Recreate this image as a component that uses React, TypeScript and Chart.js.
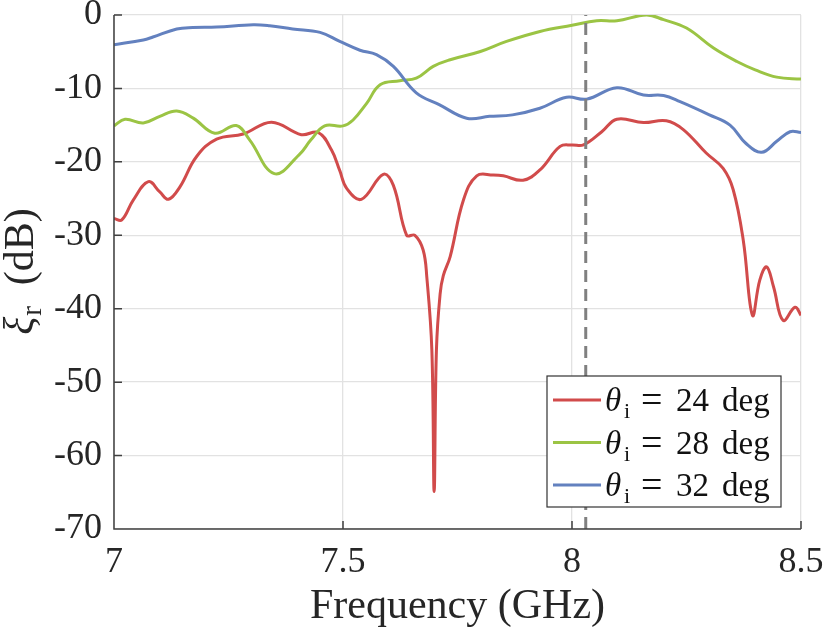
import { useEffect, useRef } from 'react';
import { Chart, registerables } from 'chart.js';

Chart.register(...registerables);

// reflection level vs frequency
const freq24 = [7.0, 7.017, 7.042, 7.075, 7.1, 7.119, 7.144, 7.18, 7.224, 7.282, 7.344, 7.409, 7.446, 7.475, 7.493, 7.508, 7.54, 7.588, 7.61, 7.639, 7.657, 7.675, 7.683, 7.694, 7.699, 7.704, 7.712, 7.719, 7.734, 7.763, 7.792, 7.828, 7.85, 7.893, 7.93, 7.974, 8.0, 8.025, 8.065, 8.098, 8.156, 8.206, 8.243, 8.293, 8.33, 8.352, 8.374, 8.394, 8.41, 8.425, 8.44, 8.461, 8.487, 8.5];
const xi24 = [-27.7, -27.9, -25.2, -22.7, -24.1, -25.1, -23.4, -19.3, -16.9, -16.2, -14.6, -16.3, -16.0, -18.4, -21.2, -23.6, -25.1, -21.7, -23.2, -30.0, -30.0, -32.0, -35.7, -45.6, -64.9, -45.6, -38.0, -35.5, -32.9, -25.2, -21.9, -21.8, -21.9, -22.5, -21.1, -17.9, -17.7, -17.7, -15.9, -14.2, -14.65, -14.4, -15.6, -18.8, -20.9, -23.8, -30.7, -40.9, -36.1, -34.3, -37.0, -41.6, -39.8, -40.9];

const freq28 = [7.0, 7.024, 7.064, 7.1, 7.137, 7.173, 7.22, 7.267, 7.296, 7.35, 7.404, 7.43, 7.46, 7.5, 7.522, 7.552, 7.581, 7.624, 7.66, 7.697, 7.734, 7.8, 7.857, 7.93, 8.0, 8.054, 8.098, 8.163, 8.2, 8.25, 8.309, 8.36, 8.4, 8.447, 8.5];
const xi28 = [-15.1, -14.2, -14.7, -13.8, -13.06, -14.05, -16.1, -15.06, -17.0, -21.6, -19.06, -17.0, -15.1, -15.1, -14.3, -12.0, -9.5, -8.96, -8.6, -7.0, -6.1, -4.97, -3.6, -2.24, -1.4, -0.78, -0.78, 0.0, -0.64, -1.78, -4.5, -6.33, -7.46, -8.46, -8.73];

const freq32 = [7.0, 7.064, 7.085, 7.137, 7.172, 7.224, 7.304, 7.34, 7.39, 7.45, 7.493, 7.537, 7.573, 7.61, 7.66, 7.71, 7.77, 7.82, 7.87, 7.93, 7.988, 8.032, 8.098, 8.156, 8.2, 8.236, 8.3, 8.345, 8.38, 8.414, 8.447, 8.476, 8.5];
const xi32 = [-4.05, -3.4, -3.0, -1.9, -1.7, -1.64, -1.32, -1.46, -1.9, -2.37, -3.6, -4.8, -5.4, -7.0, -10.6, -12.2, -14.05, -13.8, -13.6, -12.7, -11.2, -11.46, -9.9, -10.9, -10.97, -11.8, -13.6, -15.0, -17.5, -18.7, -17.2, -15.9, -16.0];

const angles = [24, 28, 32];
const colors = ['#d14b4b', '#9bc444', '#6381bf'];
const markerFreq = 8.03;

const xTicks = [7, 7.5, 8, 8.5];
const yTicks = [0, -10, -20, -30, -40, -50, -60, -70];

const serif = '"Liberation Serif", "Times New Roman", serif';
const ink = '#262626';

const toPoints = (xs: number[], ys: number[]) => xs.map((x, i) => ({ x, y: ys[i] }));

const decorations = {
  id: 'decorations',
  afterDraw(chart: any) {
    const { ctx, chartArea: a, scales } = chart;
    ctx.save();

    // axes with inward ticks
    ctx.strokeStyle = '#404040';
    ctx.lineWidth = 1.5;
    ctx.beginPath();
    ctx.moveTo(a.left, a.top);
    ctx.lineTo(a.left, a.bottom);
    ctx.lineTo(a.right, a.bottom);
    yTicks.forEach((v) => {
      const y = scales.y.getPixelForValue(v);
      ctx.moveTo(a.left, y);
      ctx.lineTo(a.left + 8, y);
    });
    xTicks.forEach((v) => {
      const x = scales.x.getPixelForValue(v);
      ctx.moveTo(x, a.bottom);
      ctx.lineTo(x, a.bottom - 8);
    });
    ctx.stroke();

    // y title: xi_r (dB)
    ctx.save();
    ctx.translate(33, (a.top + a.bottom) / 2);
    ctx.rotate(-Math.PI / 2);
    ctx.fillStyle = ink;
    ctx.textBaseline = 'alphabetic';
    ctx.textAlign = 'left';
    const fXi = 'italic 42px ' + serif;
    const fSub = '29px ' + serif;
    const fMain = '42px ' + serif;
    ctx.font = fXi;
    const wXi = ctx.measureText('ξ').width;
    ctx.font = fSub;
    const wR = ctx.measureText('r').width;
    ctx.font = fMain;
    const wRest = ctx.measureText('  (dB)').width;
    let x0 = -(wXi + wR + wRest) / 2;
    ctx.font = fXi;
    ctx.fillText('ξ', x0, 0);
    x0 += wXi + 1;
    ctx.font = fSub;
    ctx.fillText('r', x0, 8);
    x0 += wR;
    ctx.font = fMain;
    ctx.fillText('  (dB)', x0, 0);
    ctx.restore();

    // legend
    const lx = 547, ly = 376, lw = 234, lh = 131;
    ctx.fillStyle = '#ffffff';
    ctx.fillRect(lx, ly, lw, lh);
    ctx.strokeStyle = '#333333';
    ctx.lineWidth = 1.2;
    ctx.strokeRect(lx, ly, lw, lh);
    angles.forEach((ang, i) => {
      const cy = ly + 24 + 42.5 * i;
      ctx.strokeStyle = colors[i];
      ctx.lineWidth = 3;
      ctx.beginPath();
      ctx.moveTo(lx + 6, cy);
      ctx.lineTo(lx + 54, cy);
      ctx.stroke();
      const base = cy + 11;
      ctx.fillStyle = '#111111';
      ctx.textBaseline = 'alphabetic';
      ctx.font = 'italic 33px ' + serif;
      ctx.fillText('θ', lx + 58, base);
      ctx.font = '22px ' + serif;
      ctx.fillText('i', lx + 77, base + 7);
      ctx.font = '38px ' + serif;
      ctx.fillText('=', lx + 94, base + 1);
      ctx.font = '33px ' + serif;
      ctx.fillText(String(ang), lx + 129, base);
      ctx.fillText('deg', lx + 175, base);
    });

    ctx.restore();
  },
};

export default function App() {
  const canvasRef = useRef<HTMLCanvasElement>(null);
  const chartRef = useRef<Chart | null>(null);

  useEffect(() => {
    if (!canvasRef.current) return;
    if (chartRef.current) chartRef.current.destroy();

    const series = [xi24, xi28, xi32];
    const freqs = [freq24, freq28, freq32];

    chartRef.current = new Chart(canvasRef.current, {
      type: 'line',
      data: {
        datasets: [
          {
            label: 'marker',
            data: [
              { x: markerFreq, y: yTicks[yTicks.length - 1] },
              { x: markerFreq, y: yTicks[0] },
            ],
            borderColor: '#808080',
            borderWidth: 3,
            borderDash: [12, 7],
            pointRadius: 0,
            order: 1,
          },
          ...angles.map((ang, i) => ({
            label: `θi = ${ang} deg`,
            data: toPoints(freqs[i], series[i]),
            borderColor: colors[i],
            borderWidth: 3,
            pointRadius: 0,
            tension: 0.4,
            order: 4 - i,
          })),
        ],
      },
      options: {
        animation: false,
        responsive: true,
        maintainAspectRatio: false,
        layout: { padding: { left: 0, right: 29, top: 15, bottom: 0 } },
        plugins: {
          legend: { display: false },
          tooltip: { enabled: false },
        },
        scales: {
          x: {
            type: 'linear',
            min: xTicks[0],
            max: xTicks[xTicks.length - 1],
            afterBuildTicks: (s: any) => {
              s.ticks = xTicks.map((v) => ({ value: v }));
            },
            afterFit: (s: any) => {
              s.height = 105;
              s.paddingLeft = 0;
              s.paddingRight = 0;
            },
            grid: { color: '#e2e2e2', lineWidth: 1.3, drawTicks: false },
            border: { display: false },
            ticks: {
              color: ink,
              padding: 12,
              maxRotation: 0,
              font: { family: serif, size: 36 },
              callback: (v: any) => String(v),
            },
            title: {
              display: true,
              text: 'Frequency (GHz)',
              color: ink,
              font: { family: serif, size: 42 },
              padding: { top: 0, bottom: 2 },
            },
          },
          y: {
            type: 'linear',
            min: yTicks[yTicks.length - 1],
            max: yTicks[0],
            afterBuildTicks: (s: any) => {
              s.ticks = [...yTicks].reverse().map((v) => ({ value: v }));
            },
            afterFit: (s: any) => {
              s.width = 114;
              s.paddingTop = 0;
              s.paddingBottom = 0;
            },
            grid: { color: '#e2e2e2', lineWidth: 1.3, drawTicks: false },
            border: { display: false },
            ticks: {
              color: ink,
              padding: 12,
              font: { family: serif, size: 36 },
              callback: (v: any) => String(v),
            },
          },
        },
      },
      plugins: [decorations],
    });

    return () => {
      if (chartRef.current) {
        chartRef.current.destroy();
        chartRef.current = null;
      }
    };
  }, []);

  return (
    <div style={{ position: 'fixed', left: 0, top: 0, width: 830, height: 634, background: '#ffffff' }}>
      <canvas ref={canvasRef} style={{ width: '100%', height: '100%' }} />
    </div>
  );
}
